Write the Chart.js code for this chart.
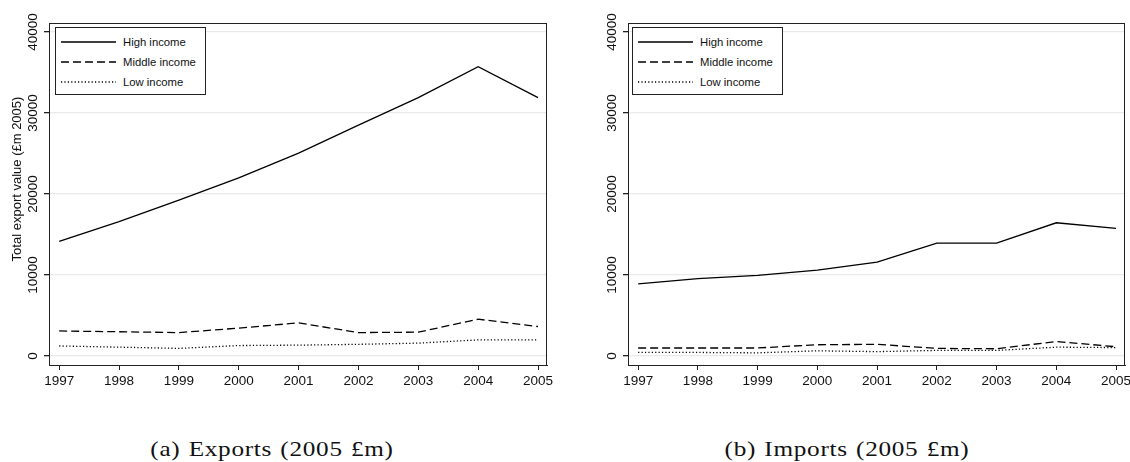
<!DOCTYPE html>
<html>
<head>
<meta charset="utf-8">
<script src="https://cdn.jsdelivr.net/npm/chart.js@4"></script>
<style>
  body { margin: 0; background: #fff; width: 1130px; height: 462px; overflow: hidden; position: relative; }
  .panel { position: absolute; top: 0; height: 400px; }
  .legend { position: absolute; top: 27px; width: 149px; height: 66px; border: 1px solid #222; background: #fff;
            font: 11.3px "Liberation Sans", Arial, sans-serif; color: #111; }
  .legend .row { position: absolute; left: 0; height: 14px; width: 149px; }
  .legend svg { position: absolute; left: 5px; top: 2px; }
  .legend span { position: absolute; left: 67px; top: 0; line-height: 14px; }
  .caption { position: absolute; top: 437px; font: 21px "Liberation Serif", "Times New Roman", serif;
             letter-spacing: 0.6px; word-spacing: 1px; color: #111; white-space: nowrap;
             transform: translateX(-50%) scaleX(1.2); }
</style>
</head>
<body>
<div class="panel" style="left:0;width:565px"><canvas id="graphExports"></canvas></div>
<div class="panel" style="left:580px;width:550px"><canvas id="graphImports"></canvas></div>

<div class="legend" style="left:55px" id="legendExports"></div>
<div class="legend" style="left:632px" id="legendImports"></div>

<div class="caption" style="left:272px">(a) Exports (2005 £m)</div>
<div class="caption" style="left:847px">(b) Imports (2005 £m)</div>

<script>
const years = [1997, 1998, 1999, 2000, 2001, 2002, 2003, 2004, 2005];
const yTicks = [0, 10000, 20000, 30000, 40000];
const seriesNames = ['High income', 'Middle income', 'Low income'];

const exportsHigh = [14150, 16600, 19250, 22000, 25050, 28500, 31900, 35700, 31900];
const exportsMiddle = [3100, 3000, 2900, 3450, 4100, 2900, 2950, 4550, 3650];
const exportsLow = [1250, 1100, 950, 1300, 1350, 1450, 1600, 2000, 2000];

const importsHigh = [8900, 9550, 9950, 10600, 11600, 13950, 13950, 16450, 15750];
const importsMiddle = [1000, 1000, 1000, 1400, 1450, 950, 900, 1800, 1150];
const importsLow = [450, 450, 400, 650, 550, 700, 700, 1100, 1050];

const dashes = [[], [8, 4], [1.2, 2.2]];
const tickFont = { family: '"Liberation Sans", Arial, sans-serif', size: 13.5 };

function toPoints(values) {
  return values.map((v, i) => ({ x: years[i], y: v }));
}

// stata-ish frame + rotated y labels
const framePlugin = {
  id: 'frame',
  afterDraw(chart, args, opts) {
    const ctx = chart.ctx;
    const a = chart.chartArea;
    const yScale = chart.scales.y;
    ctx.save();
    ctx.strokeStyle = '#222';
    ctx.lineWidth = 1;
    ctx.strokeRect(Math.round(a.left) + 0.5, Math.round(a.top) + 0.5,
                   Math.round(a.right - a.left) - 1, Math.round(a.bottom - a.top));
    ctx.fillStyle = '#111';
    ctx.font = '13.5px "Liberation Sans", Arial, sans-serif';
    ctx.textAlign = 'center';
    ctx.textBaseline = 'middle';
    yTicks.forEach(v => {
      ctx.save();
      ctx.translate(a.left - 16, yScale.getPixelForValue(v));
      ctx.rotate(-Math.PI / 2);
      ctx.fillText(String(v), 0, 0);
      ctx.restore();
    });
    if (opts.title) {
      ctx.font = '13px "Liberation Sans", Arial, sans-serif';
      ctx.translate(opts.titleX, opts.titleY);
      ctx.rotate(-Math.PI / 2);
      ctx.fillText(opts.title, 0, 0);
    }
    ctx.restore();
  }
};

function makeChart(id, high, middle, low, yAxisWidth, rightPad, title) {
  const ctx = document.getElementById(id);
  return new Chart(ctx, {
    type: 'line',
    data: {
      datasets: [high, middle, low].map((vals, i) => ({
        label: seriesNames[i],
        data: toPoints(vals),
        borderColor: '#000',
        borderWidth: 1.3,
        borderDash: dashes[i],
        pointRadius: 0,
        fill: false,
        tension: 0
      }))
    },
    options: {
      responsive: true,
      maintainAspectRatio: false,
      animation: false,
      layout: { padding: { top: 23, right: rightPad, left: 0, bottom: 0 } },
      plugins: {
        legend: { display: false },
        tooltip: { enabled: false },
        frame: title ? { title: title, titleX: 17, titleY: 179 } : {}
      },
      scales: {
        x: {
          type: 'linear',
          min: 1996.83,
          max: 2005.15,
          afterBuildTicks: s => { s.ticks = years.map(v => ({ value: v })); },
          afterFit: s => { s.height = 35; s.paddingLeft = 0; s.paddingRight = 0; },
          ticks: { font: tickFont, color: '#111', padding: 3, maxRotation: 0, callback: v => String(v) },
          grid: { drawOnChartArea: false, drawTicks: true, tickLength: 5, tickColor: '#222' },
          border: { color: '#222', width: 1 }
        },
        y: {
          type: 'linear',
          min: -1100,
          max: 41100,
          afterBuildTicks: s => { s.ticks = yTicks.map(v => ({ value: v })); },
          afterFit: s => { s.width = yAxisWidth; },
          ticks: { display: false },
          grid: { color: '#e9e9e9', lineWidth: 1.3, drawTicks: true, tickLength: 5, tickColor: '#222' },
          border: { color: '#222', width: 1 }
        }
      }
    },
    plugins: [framePlugin]
  });
}

function buildLegend(id) {
  const box = document.getElementById(id);
  const dashAttr = ['', 'stroke-dasharray="8 4"', 'stroke-dasharray="1.2 2.2"'];
  seriesNames.forEach((name, i) => {
    const row = document.createElement('div');
    row.className = 'row';
    row.style.top = (7 + i * 20) + 'px';
    row.innerHTML = '<svg width="56" height="10"><line x1="0" y1="5" x2="55" y2="5" stroke="#000" stroke-width="1.3" ' +
      dashAttr[i] + '/></svg><span>' + name + '</span>';
    box.appendChild(row);
  });
}

makeChart('graphExports', exportsHigh, exportsMiddle, exportsLow, 49, 18, 'Total export value (£m 2005)');
makeChart('graphImports', importsHigh, importsMiddle, importsLow, 48, 5, null);
buildLegend('legendExports');
buildLegend('legendImports');
</script>
</body>
</html>
